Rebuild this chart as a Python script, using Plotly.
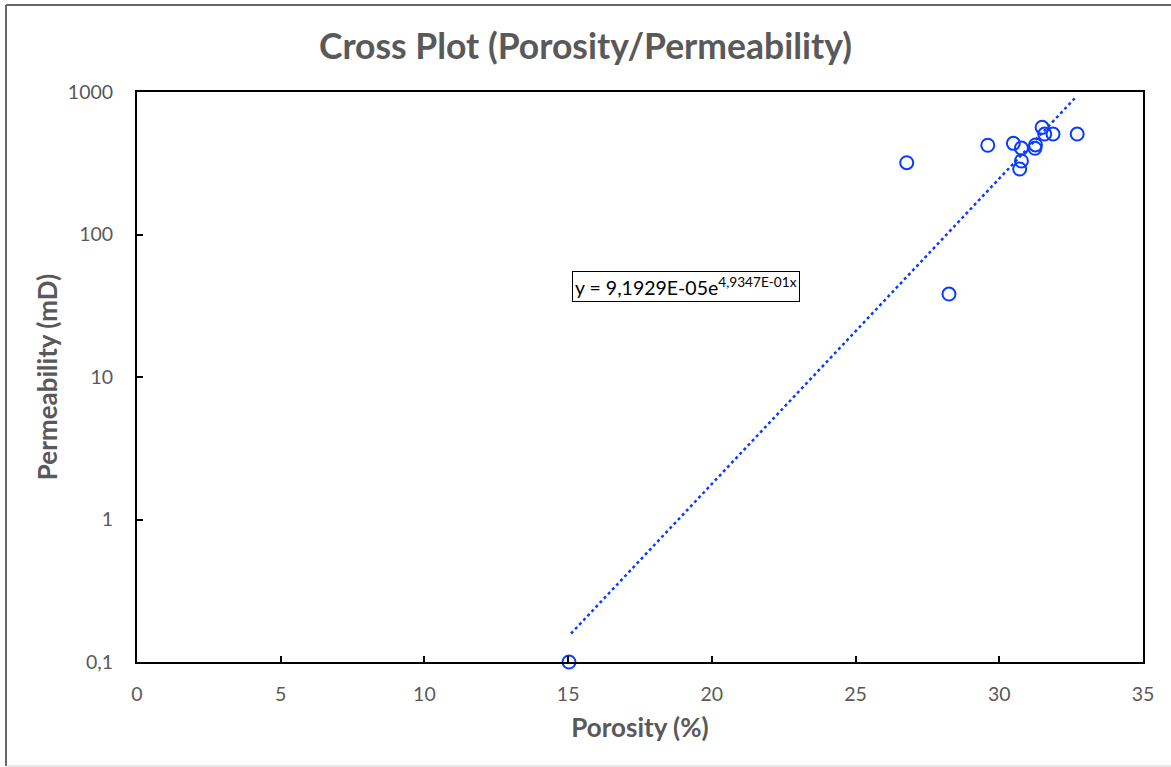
import math
import plotly.graph_objects as go

# Data
porosity = [15.03, 26.78, 28.25, 29.60, 30.49, 30.71, 30.77, 30.77, 31.24, 31.26, 31.49, 31.58, 31.87, 32.71]
permeability = [0.1, 319, 38.2, 423, 436, 288, 328, 404, 403, 425, 565, 507, 507, 507]

# Exponential trendline coefficients (as shown on chart)
trend_a = 9.1929e-05
trend_b = 4.9347e-01
trend_x = [15.1, 32.7]

x_ticks = [0, 5, 10, 15, 20, 25, 30, 35]
y_tickvals = [0.1, 1, 10, 100, 1000]
y_ticktext = ["0,1", "1", "10", "100", "1000"]

trend_y = [trend_a * math.exp(trend_b * x) for x in trend_x]

FONT = "Lato"
GREY = "#595959"
BLUE = "#0a3cff"

fig = go.Figure()
fig.add_trace(go.Scatter(
    x=trend_x, y=trend_y, mode="lines",
    line=dict(color=BLUE, width=2.5, dash="dot"),
    hoverinfo="skip", showlegend=False,
))
fig.add_trace(go.Scatter(
    x=porosity, y=permeability, mode="markers",
    marker=dict(symbol="circle-open", size=13, color=BLUE, line=dict(width=2, color=BLUE)),
    cliponaxis=False, showlegend=False,
))

L, R, T, B = 137, 28, 92, 105
W, H = 1171, 767
pw, ph = W - L - R, H - T - B


def px_x(p):
    return (p - L) / pw


def px_y(p):
    return (H - B - p) / ph


fig.update_layout(
    width=W, height=H,
    margin=dict(l=L, r=R, t=T, b=B),
    paper_bgcolor="white", plot_bgcolor="white",
    font=dict(family=FONT, color=GREY, size=19),
    title=dict(text="<b>Cross Plot (Porosity/Permeability)</b>",
               x=0.5, xref="container", y=1 - 47 / H, yref="container",
               xanchor="center", yanchor="middle",
               font=dict(family=FONT, size=35.5, color=GREY)),
    xaxis=dict(
        range=[0, 35], tickvals=x_ticks, showgrid=False, zeroline=False,
        showline=True, linecolor="black", linewidth=2, mirror=True,
        ticks="inside", ticklen=6, tickcolor="black", tickwidth=1.5,
        ticklabelstandoff=14,
        tickfont=dict(size=19.5, color=GREY, family=FONT),
        title=dict(text="<b>Porosity (%)</b>", font=dict(size=26, color=GREY, family=FONT), standoff=14),
    ),
    yaxis=dict(
        type="log", range=[-1, 3], tickvals=y_tickvals, ticktext=y_ticktext,
        showgrid=False, zeroline=False,
        showline=True, linecolor="black", linewidth=2, mirror=True,
        ticks="inside", ticklen=6, tickcolor="black", tickwidth=1.5,
        ticklabelstandoff=18,
        tickfont=dict(size=19.5, color=GREY, family=FONT),
        title=dict(text="<b>Permeability (mD)</b>", font=dict(size=26, color=GREY, family=FONT), standoff=3),
    ),
    annotations=[dict(
        text="y = 9,1929E-05e<sup>4,9347E-01x</sup>",
        xref="paper", yref="paper",
        x=px_x(686), y=px_y(286),
        xanchor="center", yanchor="middle", showarrow=False,
        font=dict(family=FONT, size=19.5, color="black"),
        bordercolor="black", borderwidth=1, borderpad=2, bgcolor="white",
    )],
    shapes=[
        dict(type="line", xref="paper", yref="paper",
             x0=px_x(6), x1=px_x(6), y0=px_y(766), y1=px_y(5),
             line=dict(color="#666666", width=2), layer="below"),
        dict(type="line", xref="paper", yref="paper",
             x0=px_x(6), x1=px_x(W + 5), y0=px_y(5), y1=px_y(5),
             line=dict(color="#666666", width=2), layer="below"),
        dict(type="line", xref="paper", yref="paper",
             x0=px_x(6), x1=px_x(W + 5), y0=px_y(766), y1=px_y(766),
             line=dict(color="#d0d0d0", width=1), layer="below"),
    ],
)

fig.write_html("out.html")
